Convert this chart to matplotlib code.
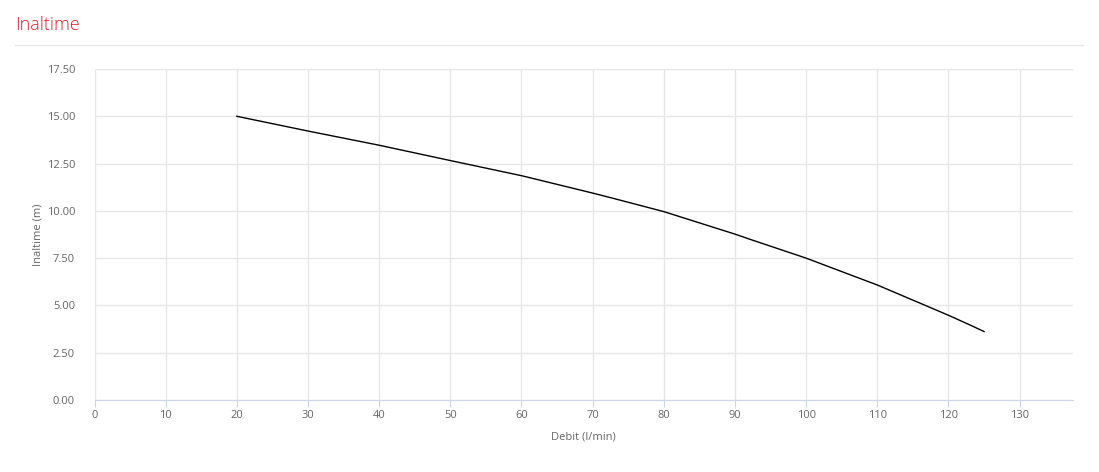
import numpy as np
from matplotlib import pyplot as plt

plt.rcParams['font.family'] = ['Open Sans', 'DejaVu Sans']

# Curba pompei: debit (l/min) vs inaltime (m)
debit = [20, 30, 40, 50, 60, 70, 72.5, 80, 90, 92, 100, 110, 120, 123, 125]
inaltime = [15.0, 14.22, 13.47, 12.66, 11.86, 10.94, 10.70, 9.96, 8.77, 8.51, 7.50,
            6.08, 4.48, 3.97, 3.62]
x_ticks = list(range(0, 140, 10))
y_ticks = [0, 2.5, 5, 7.5, 10, 12.5, 15, 17.5]

fig = plt.figure(figsize=(10.99, 4.72), dpi=100)
ax = fig.add_axes([94.5 / 1099, 72 / 472, (1073 - 94.5) / 1099, (400 - 69) / 472])

ax.plot(debit, inaltime, color='black', linewidth=1.0)

ax.set_xlim(0, 137.5)
ax.set_ylim(0, 17.5)
ax.set_xticks(x_ticks)
ax.set_yticks(y_ticks)
ax.set_yticklabels([f"{v:.2f}" for v in y_ticks])
ax.grid(True, color='#e6e6e6', linewidth=1)
ax.set_axisbelow(True)

for side in ['top', 'right', 'left']:
    ax.spines[side].set_visible(False)
ax.spines['bottom'].set_color('#ccd6eb')
ax.tick_params(axis='x', colors='#ccd6eb', length=5, labelcolor='#666666', labelsize=8, pad=2)
ax.tick_params(axis='y', length=0, labelcolor='#666666', labelsize=8, pad=14)

ax.set_xlabel("Debit (l/min)", color='#666666', fontsize=8, labelpad=8)
ax.set_ylabel("Inaltime (m)", color='#666666', fontsize=8, labelpad=2)

fig.text(15 / 1099, 1 - 25 / 472, "Inaltime", color='#e31e24', fontsize=13,
         fontweight='light', va='center', ha='left')
fig.add_artist(plt.Line2D([15 / 1099, 1083 / 1099], [1 - 45 / 472, 1 - 45 / 472], color='#e6e6e6', linewidth=1))

fig.savefig('out.png', dpi=100)
